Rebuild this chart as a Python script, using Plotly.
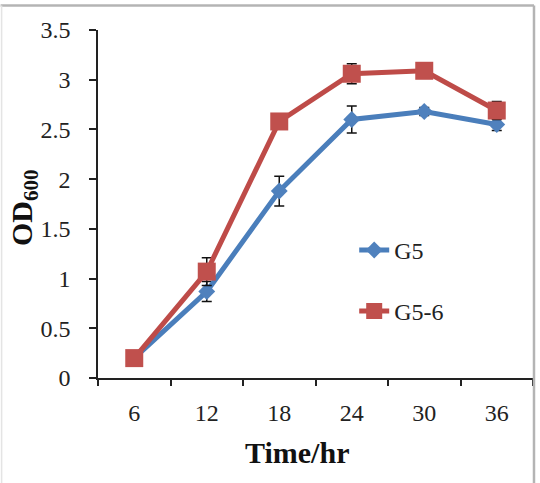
import plotly.graph_objects as go

# ---- data ----
time_labels = ["6", "12", "18", "24", "30", "36"]
g5 = [0.20, 0.87, 1.88, 2.60, 2.68, 2.55]
g5_err = [0.00, 0.10, 0.15, 0.135, 0.04, 0.06]
g56 = [0.20, 1.07, 2.58, 3.06, 3.09, 2.69]
g56_err = [0.00, 0.14, 0.03, 0.10, 0.03, 0.09]
y_ticks = [0, 0.5, 1, 1.5, 2, 2.5, 3, 3.5]
y_tick_text = ["0", "0.5", "1", "1.5", "2", "2.5", "3", "3.5"]

BLUE = "#4A7EBB"
BLUE_M = "#4F81BD"
RED = "#BE4B48"
RED_M = "#C0504D"
FONT = "Liberation Serif, Times New Roman, serif"

W, H = 540, 483
ML, MR, MT, MB = 97.5, 7, 29.5, 105.3
pw = W - ML - MR
ph = H - MT - MB


def px_x(x):
    return (x - ML) / pw


def px_y(y):
    return (H - MB - y) / ph


fig = go.Figure()
fig.add_trace(go.Scatter(
    x=time_labels, y=g5, name="G5", mode="lines+markers",
    line=dict(color=BLUE, width=5),
    marker=dict(symbol="diamond", size=13, color=BLUE_M),
    error_y=dict(type="data", array=g5_err, color="#111111", thickness=1.5, width=5),
    legend="legend",
))
fig.add_trace(go.Scatter(
    x=time_labels, y=g56, name="G5-6", mode="lines+markers",
    line=dict(color=RED, width=5),
    marker=dict(symbol="square", size=18, color=RED_M),
    error_y=dict(type="data", array=g56_err, color="#111111", thickness=1.5, width=5),
    legend="legend2",
))

axis_font = dict(family=FONT, size=24, color="#222222")
leg_font = dict(family=FONT, size=24, color="#222222")

fig.update_layout(
    width=W, height=H,
    font=dict(family=FONT, size=24, color="#222222"),
    margin=dict(l=ML, r=MR, t=MT, b=MB, pad=0),
    paper_bgcolor="white", plot_bgcolor="white",
    showlegend=True,
    legend=dict(x=px_x(354), y=px_y(250), xanchor="left", yanchor="middle",
                font=leg_font, bgcolor="rgba(0,0,0,0)", itemwidth=30),
    legend2=dict(x=px_x(354), y=px_y(311), xanchor="left", yanchor="middle",
                 font=leg_font, bgcolor="rgba(0,0,0,0)", itemwidth=30),
    xaxis=dict(
        type="category", range=[-0.5, 5.5], tickson="boundaries",
        showline=True, linecolor="#222222", linewidth=1.5,
        ticks="outside", ticklen=6, tickwidth=1.5, tickcolor="#222222",
        tickfont=axis_font, ticklabelstandoff=12,
        showgrid=False, zeroline=False, fixedrange=True,
    ),
    yaxis=dict(
        range=[0, 3.5], tickvals=y_ticks, ticktext=y_tick_text,
        showline=True, linecolor="#222222", linewidth=1.5,
        ticks="outside", ticklen=7, tickwidth=1.5, tickcolor="#222222",
        tickfont=axis_font, ticklabelstandoff=14,
        showgrid=False, zeroline=False, fixedrange=True,
    ),
    annotations=[
        dict(text="<b>Time/hr</b>", xref="paper", yref="paper",
             x=px_x(297), y=px_y(452), xanchor="center", yanchor="middle",
             showarrow=False, font=dict(family=FONT, size=30, color="#111111")),
        dict(text="<b>OD<sub>600</sub></b>", xref="paper", yref="paper",
             x=px_x(24), y=px_y(207), xanchor="center", yanchor="middle",
             textangle=-90, showarrow=False,
             font=dict(family=FONT, size=30, color="#111111")),
    ],
    shapes=[
        dict(type="line", xref="paper", yref="paper",
             x0=px_x(0), x1=px_x(534), y0=px_y(5), y1=px_y(5),
             line=dict(color="#b4b4b4", width=2.5)),
        dict(type="line", xref="paper", yref="paper",
             x0=px_x(534), x1=px_x(534), y0=px_y(5), y1=px_y(483),
             line=dict(color="#b4b4b4", width=2.5)),
        dict(type="line", xref="paper", yref="paper",
             x0=px_x(1), x1=px_x(1), y0=px_y(5), y1=px_y(483),
             line=dict(color="#e4e4e4", width=1.5)),
    ],
)

fig.write_html("out.html")
